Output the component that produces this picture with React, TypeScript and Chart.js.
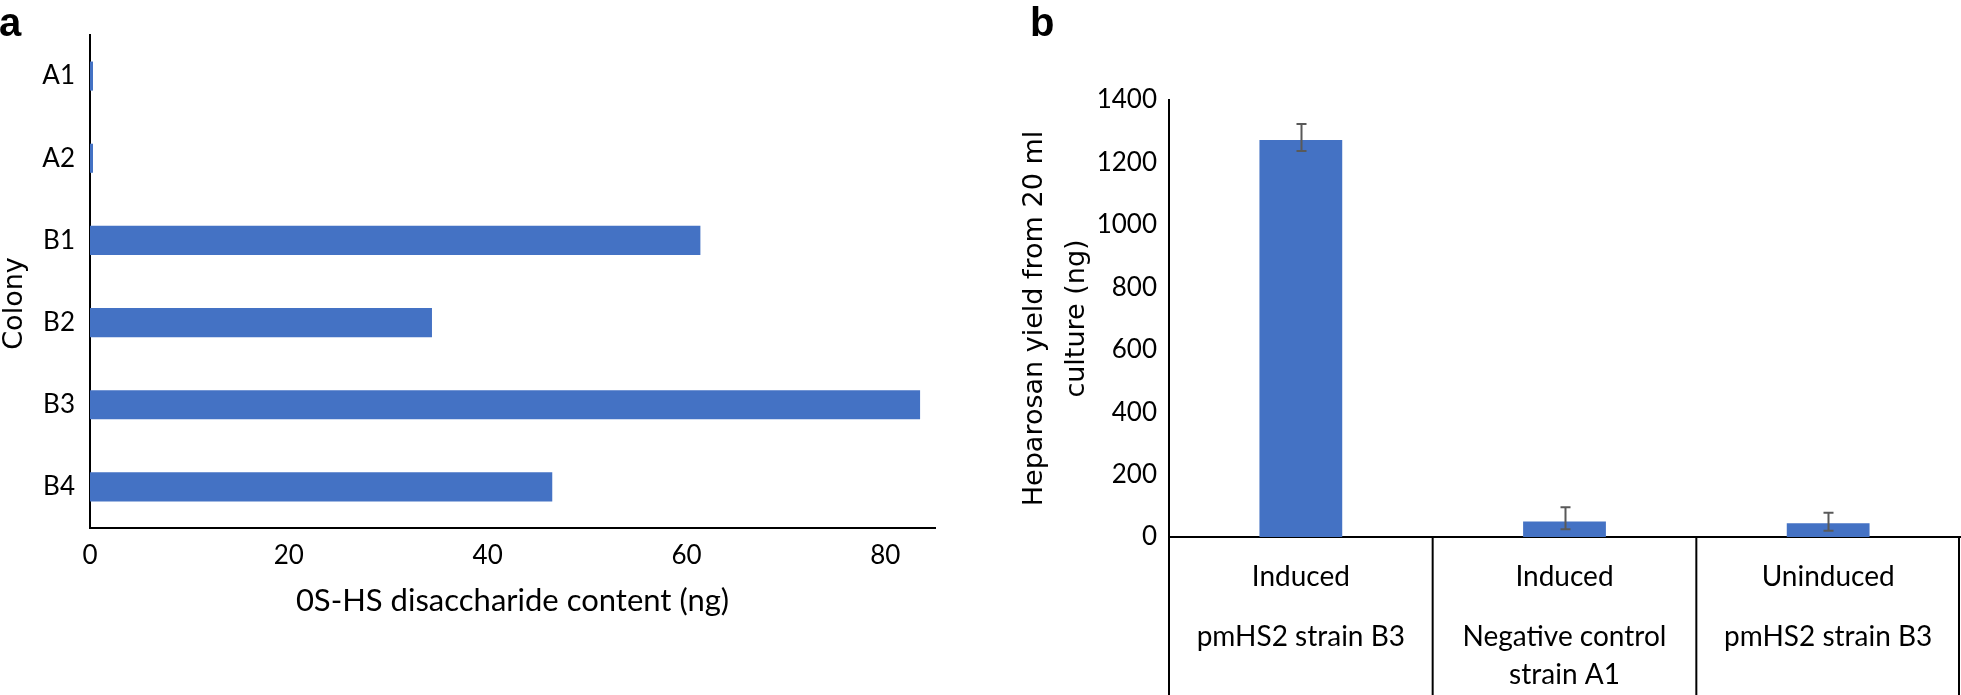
import React, { useEffect, useRef } from 'react';
import { Chart, registerables } from 'chart.js';

Chart.register(...registerables);

// ---------- Panel a data ----------
const colonies = ['A1', 'A2', 'B1', 'B2', 'B3', 'B4'];
const osHsContent = [0.3, 0.3, 61.4, 34.4, 83.5, 46.5];
const contentTicks = [0, 20, 40, 60, 80];
const contentMax = 85;
const colonyTitle = 'Colony';

// ---------- Panel b data ----------
const conditions = ['Induced', 'Induced', 'Uninduced'];
const strains = [['pmHS2 strain B3'], ['Negative control', 'strain A1'], ['pmHS2 strain B3']];
const heparosanYield = [1272, 50, 44];
const yieldErrPlus = [51, 45, 34];
const yieldErrMinus = [35, 25, 24];
const yieldTicks = [0, 200, 400, 600, 800, 1000, 1200, 1400];

const BAR = '#4472C4';
const TICK_FONT = { family: 'Lato', size: 26 };
const TITLE_FONT_GEO = { family: 'DejaVu Sans', size: 27 };

const errorBarPlugin = {
  id: 'errorBars',
  afterDatasetsDraw(chart: any) {
    const { ctx } = chart;
    const xs = chart.scales.x;
    const ys = chart.scales.y;
    ctx.save();
    ctx.strokeStyle = '#595959';
    ctx.lineWidth = 2;
    heparosanYield.forEach((v, i) => {
      const px = Math.round(xs.getPixelForValue(i)) + 0.5;
      const top = ys.getPixelForValue(v + yieldErrPlus[i]);
      const bot = ys.getPixelForValue(v - yieldErrMinus[i]);
      ctx.beginPath();
      ctx.moveTo(px, top);
      ctx.lineTo(px, bot);
      ctx.moveTo(px - 5, top);
      ctx.lineTo(px + 5, top);
      ctx.moveTo(px - 5, bot);
      ctx.lineTo(px + 5, bot);
      ctx.stroke();
    });
    ctx.restore();
  },
};

const tablePlugin = {
  id: 'categoryTable',
  afterDraw(chart: any) {
    const { ctx, chartArea, height } = chart;
    const xs = chart.scales.x;
    const n = conditions.length;
    const band = xs.getPixelForValue(1) - xs.getPixelForValue(0);
    ctx.save();
    ctx.strokeStyle = '#000';
    ctx.lineWidth = 2;
    for (let i = 0; i <= n; i++) {
      let lx = xs.getPixelForValue(i) - band / 2;
      if (i === n) lx = chartArea.right - 1;
      ctx.beginPath();
      ctx.moveTo(lx, chartArea.bottom);
      ctx.lineTo(lx, height);
      ctx.stroke();
    }
    ctx.fillStyle = '#000';
    ctx.textAlign = 'center';
    ctx.textBaseline = 'middle';
    ctx.font = '28px Lato';
    for (let i = 0; i < n; i++) {
      const cx = xs.getPixelForValue(i);
      ctx.fillText(conditions[i], cx, chartArea.bottom + 40);
      strains[i].forEach((line, j) => {
        ctx.fillText(line, cx, chartArea.bottom + 100 + j * 38);
      });
    }
    ctx.restore();
  },
};

// Y-axis title for panel a, drawn a little below the axis centre as in the original
const colonyTitlePlugin = {
  id: 'colonyTitle',
  afterDraw(chart: any) {
    const { ctx, chartArea } = chart;
    ctx.save();
    ctx.translate(15, (chartArea.top + chartArea.bottom) / 2 + 22);
    ctx.rotate(-Math.PI / 2);
    ctx.fillStyle = '#000';
    ctx.font = `${TITLE_FONT_GEO.size}px "${TITLE_FONT_GEO.family}"`;
    ctx.textAlign = 'center';
    ctx.textBaseline = 'middle';
    ctx.fillText(colonyTitle, 0, 0);
    ctx.restore();
  },
};

function PanelA() {
  const ref = useRef<HTMLCanvasElement>(null);
  useEffect(() => {
    const chart = new Chart(ref.current as HTMLCanvasElement, {
      type: 'bar',
      data: {
        labels: colonies,
        datasets: [
          {
            data: osHsContent,
            backgroundColor: BAR,
            barPercentage: 0.354,
            categoryPercentage: 1,
          },
        ],
      },
      options: {
        indexAxis: 'y',
        animation: false,
        responsive: false,
        devicePixelRatio: 1,
        layout: { padding: { top: 35, right: 45, left: 0, bottom: 0 } },
        plugins: { legend: { display: false }, tooltip: { enabled: false } },
        scales: {
          x: {
            min: 0,
            max: contentMax,
            afterBuildTicks: (s: any) => {
              s.ticks = contentTicks.map((v) => ({ value: v }));
            },
            ticks: { font: TICK_FONT, color: '#000', padding: 12 },
            grid: { display: false, drawTicks: false },
            border: { display: true, color: '#000', width: 2 },
            title: {
              display: true,
              text: '0S-HS disaccharide content (ng)',
              font: { family: 'Lato', size: 31 },
              color: '#000',
              padding: { top: 0, bottom: 75 },
            },
            afterFit: (s: any) => {
              s.height = 167;
            },
          },
          y: {
            ticks: { font: TICK_FONT, color: '#000', padding: 15 },
            grid: { display: false, drawTicks: false },
            border: { display: true, color: '#000', width: 2 },
            title: { display: false },
            afterFit: (s: any) => {
              s.width = 90;
            },
          },
        },
      } as any,
      plugins: [colonyTitlePlugin],
    });
    return () => chart.destroy();
  }, []);
  return (
    <canvas
      ref={ref}
      width={980}
      height={695}
      style={{ position: 'absolute', left: 0, top: 0, width: 980, height: 695 }}
    />
  );
}

function PanelB() {
  const ref = useRef<HTMLCanvasElement>(null);
  useEffect(() => {
    const chart = new Chart(ref.current as HTMLCanvasElement, {
      type: 'bar',
      data: {
        labels: conditions,
        datasets: [
          {
            data: heparosanYield,
            backgroundColor: BAR,
            barPercentage: 0.314,
            categoryPercentage: 1,
          },
        ],
      },
      options: {
        animation: false,
        responsive: false,
        devicePixelRatio: 1,
        layout: { padding: { top: 100, right: 1, left: 0, bottom: 0 } },
        plugins: { legend: { display: false }, tooltip: { enabled: false } },
        scales: {
          x: {
            ticks: { display: false },
            grid: { display: false, drawTicks: false },
            border: { display: true, color: '#000', width: 2 },
            afterFit: (s: any) => {
              s.height = 158;
            },
          },
          y: {
            min: 0,
            max: 1400,
            afterBuildTicks: (s: any) => {
              s.ticks = yieldTicks.map((v) => ({ value: v }));
            },
            ticks: {
              font: TICK_FONT,
              color: '#000',
              padding: 12,
              callback: (v: any) => String(v),
            },
            grid: { display: false, drawTicks: false },
            border: { display: true, color: '#000', width: 2 },
            title: {
              display: true,
              text: ['Heparosan yield from 20 ml', 'culture (ng)'],
              font: { ...TITLE_FONT_GEO, lineHeight: 1.55 },
              color: '#000',
              padding: { top: 34, bottom: 0 },
            },
            afterFit: (s: any) => {
              s.width = 189;
            },
          },
        },
      } as any,
      plugins: [errorBarPlugin, tablePlugin],
    });
    return () => chart.destroy();
  }, []);
  return (
    <canvas
      ref={ref}
      width={981}
      height={695}
      style={{ position: 'absolute', left: 980, top: 0, width: 981, height: 695 }}
    />
  );
}

const panelLabel: React.CSSProperties = {
  position: 'absolute',
  top: 2,
  fontFamily: '"Liberation Sans", Arial, sans-serif',
  fontWeight: 'bold',
  fontSize: 40,
  lineHeight: '40px',
  color: '#000',
};

export default function App() {
  return (
    <div
      style={{
        position: 'absolute',
        left: 0,
        top: 0,
        width: 1961,
        height: 695,
        background: '#fff',
        overflow: 'hidden',
      }}
    >
      <PanelA />
      <PanelB />
      <div style={{ ...panelLabel, left: -1 }}>a</div>
      <div style={{ ...panelLabel, left: 1030 }}>b</div>
    </div>
  );
}
